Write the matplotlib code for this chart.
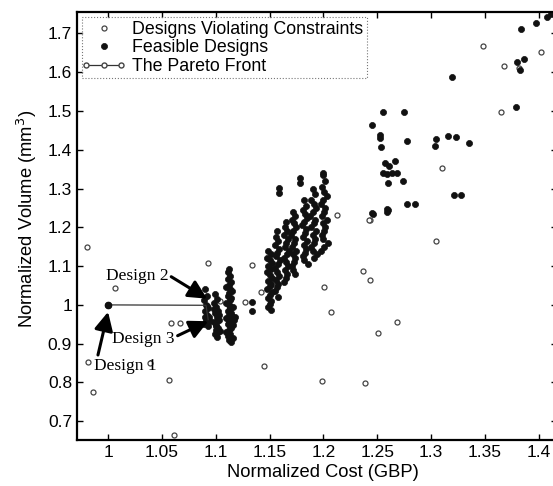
import matplotlib
matplotlib.use("Agg")
import matplotlib.pyplot as plt

plt.rcParams['font.family'] = ['Liberation Sans', 'DejaVu Sans']

# ---- Designs violating constraints (open markers) ----
viol_cost = [0.980, 1.006, 0.981, 0.986, 1.039, 1.057, 1.061, 1.058, 1.067, 1.093,
             1.104, 1.134, 1.127, 1.142, 1.145, 1.201, 1.207, 1.199, 1.239, 1.237,
             1.243, 1.268, 1.251, 1.243, 1.213, 1.348, 1.368, 1.382, 1.402, 1.365,
             1.310, 1.305, 1.242]
viol_volume = [1.149, 1.044, 0.853, 0.776, 0.850, 0.807, 0.665, 0.954, 0.954, 1.108,
               1.010, 1.103, 1.008, 1.034, 0.843, 1.046, 0.982, 0.804, 0.799, 1.088,
               1.064, 0.956, 0.927, 1.219, 1.232, 1.668, 1.616, 1.611, 1.652, 1.497,
               1.353, 1.165, 1.219]

# ---- Feasible designs (filled markers) ----
feas_cost = [
    # column near 1.112
    1.112, 1.113, 1.111, 1.114, 1.112, 1.110, 1.113, 1.115, 1.112, 1.111,
    1.114, 1.113, 1.110, 1.112, 1.116, 1.113, 1.111, 1.114, 1.112, 1.113,
    1.110, 1.115, 1.112, 1.111, 1.113, 1.114, 1.112, 1.110, 1.113, 1.111,
    1.116, 1.112, 1.114, 1.111, 1.113, 1.112, 1.115, 1.117, 1.118, 1.116,
    # column near 1.100
    1.099, 1.101, 1.098, 1.100, 1.102, 1.099, 1.101, 1.103, 1.098, 1.100,
    1.102, 1.104, 1.099, 1.101, 1.100, 1.102, 1.098, 1.103, 1.100, 1.101,
    # column near 1.091
    1.090, 1.092, 1.089, 1.091, 1.093, 1.090, 1.092, 1.094, 1.091, 1.089,
    1.093, 1.095, 1.090, 1.092,
    # isolated
    1.134, 1.134, 1.0,
    # column near 1.150
    1.149, 1.151, 1.148, 1.150, 1.152, 1.149, 1.151, 1.148, 1.150, 1.152,
    1.149, 1.151, 1.150, 1.148, 1.152, 1.150, 1.149, 1.151, 1.150, 1.149, 1.151,
    # column near 1.157
    1.157, 1.156, 1.158, 1.155, 1.159, 1.157, 1.156, 1.160, 1.158, 1.155,
    1.157, 1.159, 1.156, 1.158, 1.157, 1.155, 1.158,
    # column near 1.165
    1.165, 1.164, 1.166, 1.163, 1.167, 1.165, 1.164, 1.168, 1.166, 1.163,
    1.165, 1.167, 1.164, 1.166, 1.165, 1.163,
    # column near 1.173
    1.172, 1.174, 1.171, 1.173, 1.175, 1.172, 1.170, 1.174, 1.173, 1.171,
    1.175, 1.172, 1.174, 1.173, 1.171, 1.172, 1.174,
    # column near 1.183
    1.182, 1.184, 1.181, 1.183, 1.185, 1.182, 1.180, 1.184, 1.183, 1.181,
    1.185, 1.182, 1.184, 1.183, 1.181, 1.182, 1.186,
    # column near 1.191
    1.190, 1.192, 1.189, 1.191, 1.193, 1.190, 1.188, 1.192, 1.191, 1.189,
    1.193, 1.190, 1.192, 1.191, 1.189, 1.190, 1.194, 1.191,
    # column near 1.200
    1.200, 1.202, 1.199, 1.201, 1.203, 1.200, 1.198, 1.202, 1.201, 1.199,
    1.203, 1.200, 1.202, 1.201, 1.199, 1.200, 1.204, 1.201, 1.198,
    # isolated upper middle
    1.159, 1.159, 1.178, 1.178, 1.200,
    # right cluster
    1.255, 1.275, 1.245, 1.253, 1.253, 1.254, 1.278, 1.305, 1.304, 1.316,
    1.323, 1.335, 1.257, 1.261, 1.267, 1.255, 1.259, 1.264, 1.268, 1.260,
    1.274, 1.321, 1.328, 1.278, 1.285, 1.259, 1.259, 1.245, 1.320, 1.384,
    1.398, 1.408, 1.412, 1.380, 1.386, 1.383, 1.379, 1.246, 1.260,
]
feas_volume = [
    1.092, 1.075, 1.068, 1.060, 1.052, 1.045, 1.040, 1.035, 1.030, 1.024,
    1.018, 1.012, 1.006, 1.000, 0.995, 0.990, 0.985, 0.980, 0.975, 0.970,
    0.965, 0.960, 0.955, 0.950, 0.945, 0.940, 0.935, 0.930, 0.925, 0.920,
    0.915, 0.910, 0.905, 1.085, 0.998, 0.958, 0.972, 0.962, 0.968, 0.948,
    1.028, 1.015, 1.005, 0.995, 0.985, 0.978, 0.970, 0.962, 0.955, 0.948,
    0.940, 0.932, 0.925, 0.918, 0.945, 0.960, 0.990, 0.975, 0.935, 0.928,
    1.040, 1.022, 1.012, 1.000, 0.992, 0.985, 0.975, 0.968, 0.960, 0.952,
    0.945, 0.958, 0.970, 0.998,
    1.008, 0.984, 1.000,
    1.140, 1.130, 1.122, 1.115, 1.108, 1.100, 1.092, 1.085, 1.078, 1.070,
    1.062, 1.055, 1.048, 1.040, 1.032, 1.025, 1.018, 1.010, 1.003, 0.995, 0.988,
    1.190, 1.175, 1.165, 1.155, 1.145, 1.135, 1.125, 1.115, 1.105, 1.095,
    1.085, 1.075, 1.065, 1.055, 1.045, 1.035, 1.020,
    1.215, 1.200, 1.190, 1.180, 1.170, 1.160, 1.150, 1.140, 1.130, 1.120,
    1.110, 1.100, 1.090, 1.080, 1.070, 1.060,
    1.240, 1.230, 1.220, 1.210, 1.200, 1.190, 1.180, 1.170, 1.160, 1.150,
    1.140, 1.130, 1.120, 1.110, 1.100, 1.090, 1.080,
    1.270, 1.255, 1.245, 1.235, 1.225, 1.215, 1.205, 1.195, 1.185, 1.175,
    1.165, 1.155, 1.145, 1.135, 1.125, 1.115, 1.105,
    1.300, 1.285, 1.270, 1.260, 1.250, 1.240, 1.230, 1.220, 1.210, 1.200,
    1.190, 1.180, 1.170, 1.160, 1.150, 1.140, 1.130, 1.120,
    1.335, 1.320, 1.305, 1.290, 1.280, 1.270, 1.260, 1.250, 1.240, 1.230,
    1.220, 1.210, 1.200, 1.190, 1.180, 1.170, 1.160, 1.150, 1.140,
    1.302, 1.289, 1.327, 1.314, 1.340,
    1.497, 1.497, 1.464, 1.438, 1.430, 1.407, 1.423, 1.427, 1.410, 1.436,
    1.433, 1.417, 1.366, 1.358, 1.371, 1.340, 1.338, 1.339, 1.341, 1.314,
    1.320, 1.284, 1.284, 1.260, 1.260, 1.247, 1.240, 1.237, 1.588, 1.711,
    1.727, 1.742, 1.750, 1.626, 1.634, 1.606, 1.510, 1.235, 1.245,
]

# ---- Pareto front ----
pareto_cost = [1.000, 1.091, 1.093]
pareto_volume = [1.000, 0.999, 0.962]

fig = plt.figure(figsize=(5.53, 4.86), dpi=100)
ax = fig.add_axes([0.139, 0.095, 0.868, 0.880])

ax.plot(viol_cost, viol_volume, linestyle='none', marker='o', markersize=3.6,
        markerfacecolor='white', markeredgecolor='#444444', markeredgewidth=0.9,
        label='Designs Violating Constraints')
ax.plot(feas_cost, feas_volume, linestyle='none', marker='o', markersize=4.4,
        markerfacecolor='#111111', markeredgecolor='#111111', markeredgewidth=0.5,
        label='Feasible Designs')
ax.plot(pareto_cost, pareto_volume, linestyle='-', color='#333333', linewidth=0.9,
        marker='o', markersize=3.6, markerfacecolor='white', markeredgecolor='#444444',
        markevery=[], label='The Pareto Front')
ax.plot([pareto_cost[0]], [pareto_volume[0]], linestyle='none', marker='o',
        markersize=4.5, color='#111111')

serif = ['Liberation Serif', 'DejaVu Serif']
def arrow(rp):
    return dict(arrowstyle='-|>,head_length=0.9,head_width=0.45', color='black',
                lw=2.2, shrinkA=0, shrinkB=0, relpos=rp)
ax.annotate('Design 2', xy=(1.092, 1.016), xytext=(1.027, 1.075), fontsize=12.5,
            family=serif, ha='center', va='center', arrowprops=arrow((1.0, 0.55)))
ax.annotate('Design 3', xy=(1.093, 0.958), xytext=(1.033, 0.913), fontsize=12.5,
            family=serif, ha='center', va='center', arrowprops=arrow((1.0, 0.6)))
ax.annotate('Design 1', xy=(1.000, 0.982), xytext=(1.016, 0.843), fontsize=12.5,
            family=serif, ha='center', va='center', arrowprops=arrow((0.05, 0.95)))

ax.set_xlim(0.971, 1.417)
ax.set_ylim(0.652, 1.755)
ax.set_xticks([1, 1.05, 1.1, 1.15, 1.2, 1.25, 1.3, 1.35, 1.4])
ax.set_xticklabels(['1', '1.05', '1.1', '1.15', '1.2', '1.25', '1.3', '1.35', '1.4'])
ax.set_yticks([0.7, 0.8, 0.9, 1.0, 1.1, 1.2, 1.3, 1.4, 1.5, 1.6, 1.7])
ax.set_yticklabels(['0.7', '0.8', '0.9', '1', '1.1', '1.2', '1.3', '1.4', '1.5', '1.6', '1.7'])
ax.tick_params(direction='in', top=True, right=True, labelsize=12.5, length=4, width=1)
for s in ax.spines.values():
    s.set_linewidth(1.6)

ax.set_xlabel('Normalized Cost (GBP)', fontsize=13.2)
ax.set_ylabel('Normalized Volume (mm$^3$)', fontsize=13.2)
ax.xaxis.set_label_coords(0.512, -0.056)
ax.yaxis.set_label_coords(-0.079, 0.516)

leg = ax.legend(loc='upper left', fontsize=12.8, frameon=True, fancybox=False,
                borderaxespad=0.3, handlelength=2.0, handletextpad=0.6,
                labelspacing=0.08, borderpad=0.2)
leg.get_frame().set_edgecolor('#555555')
leg.get_frame().set_linewidth(0.8)
leg.get_frame().set_linestyle(':')
leg.legend_handles[2].set_markevery(None)

fig.savefig('out.png', dpi=100)
